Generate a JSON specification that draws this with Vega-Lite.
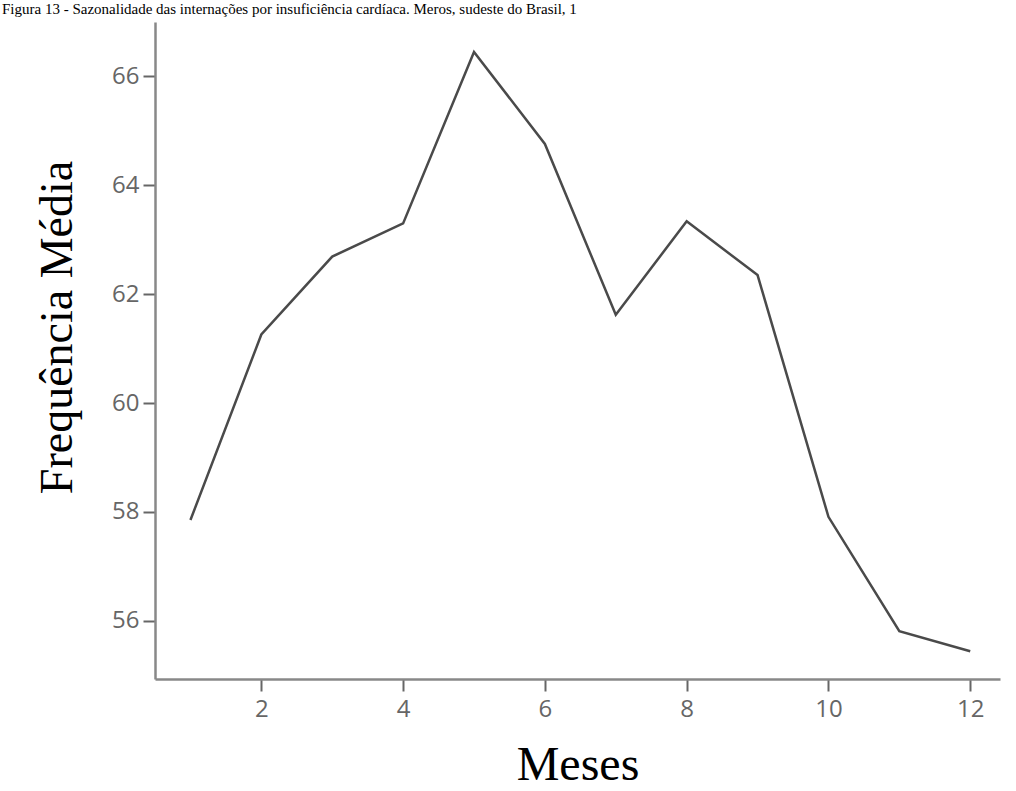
{
  "$schema": "https://vega.github.io/schema/vega-lite/v6.json",
  "width": 845,
  "height": 657,
  "autosize": {"type": "none"},
  "padding": {"left": 155, "top": 22, "right": 16, "bottom": 112},
  "background": "white",
  "title": {
    "text": "Figura 13 - Sazonalidade das internações por insuficiência cardíaca. Meros, sudeste do Brasil, 1",
    "anchor": "start",
    "frame": "group",
    "dx": -153,
    "offset": 5,
    "font": "Liberation Serif",
    "fontSize": 15,
    "fontWeight": "normal",
    "color": "#000000"
  },
  "data": {
    "values": [
      {"mes": 1, "freq": 57.85},
      {"mes": 2, "freq": 61.26},
      {"mes": 3, "freq": 62.69},
      {"mes": 4, "freq": 63.30},
      {"mes": 5, "freq": 66.45},
      {"mes": 6, "freq": 64.76},
      {"mes": 7, "freq": 61.62},
      {"mes": 8, "freq": 63.34},
      {"mes": 9, "freq": 62.35},
      {"mes": 10, "freq": 57.91},
      {"mes": 11, "freq": 55.81},
      {"mes": 12, "freq": 55.44}
    ]
  },
  "mark": {"type": "line", "color": "#4a4a4a", "strokeWidth": 2.5},
  "encoding": {
    "x": {
      "field": "mes",
      "type": "quantitative",
      "scale": {"domain": [0.5, 12.42], "nice": false, "zero": false},
      "axis": {
        "title": "Meses",
        "values": [2, 4, 6, 8, 10, 12],
        "grid": false,
        "domainColor": "#888888",
        "domainWidth": 2.5,
        "tickColor": "#666666",
        "tickWidth": 2,
        "tickSize": 12,
        "labelFont": "Open Sans",
        "labelFontSize": 24,
        "labelColor": "#666666",
        "labelPadding": 6,
        "titleFont": "Liberation Serif",
        "titleFontSize": 48,
        "titleFontWeight": "normal",
        "titleColor": "#000000",
        "titlePadding": 20
      }
    },
    "y": {
      "field": "freq",
      "type": "quantitative",
      "scale": {"domain": [54.93, 67.0], "nice": false, "zero": false},
      "axis": {
        "title": "Frequência Média",
        "values": [56, 58, 60, 62, 64, 66],
        "grid": false,
        "domainColor": "#888888",
        "domainWidth": 2.5,
        "tickColor": "#666666",
        "tickWidth": 2,
        "tickSize": 12,
        "labelFont": "Open Sans",
        "labelFontSize": 24,
        "labelColor": "#666666",
        "labelPadding": 4,
        "titleFont": "Liberation Serif",
        "titleFontSize": 46,
        "titleFontWeight": "normal",
        "titleColor": "#000000",
        "titlePadding": 30,
        "titleY": 305
      }
    }
  },
  "config": {"view": {"stroke": null}}
}
